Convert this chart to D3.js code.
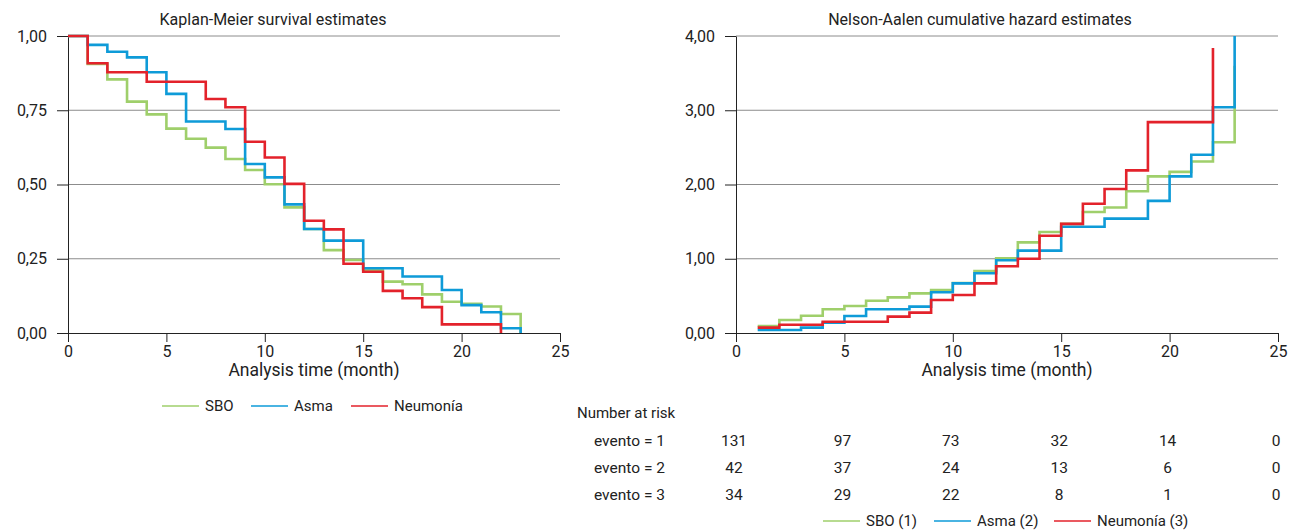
<!DOCTYPE html>
<html>
<head>
<meta charset="utf-8">
<script src="https://cdn.jsdelivr.net/npm/d3@7"></script>
<style>
  body { margin: 0; background: #fff; }
  svg { font-family: Roboto, "Liberation Sans", sans-serif; }
  .axis text { font-size: 16px; fill: #222; }
  .axis path, .axis line { stroke: #222; }
  .grid line { stroke: #8c8c8c; }
</style>
</head>
<body>
<div id="chart"></div>
<script>
// series names and colours
const groups = ["SBO", "Asma", "Neumonía"];
const groupLabels = ["SBO (1)", "Asma (2)", "Neumonía (3)"];
const colors = ["#9fcf6b", "#0e9bd8", "#e3222b"];

// Kaplan-Meier: time (month) and survival for each group
const kmTime = [0,1,2,3,4,5,6,7,8,9,10,11,12,13,14,15,16,17,18,19,20,21,22,23];
const kmSBO = [1,0.906,0.854,0.779,0.736,0.688,0.654,0.624,0.586,0.549,0.501,0.423,0.350,0.279,0.246,0.212,0.173,0.164,0.130,0.105,0.098,0.089,0.064,0];
const kmAsma = [1,0.970,0.947,0.928,0.878,0.805,0.712,0.712,0.687,0.569,0.524,0.433,0.350,0.311,0.311,0.218,0.218,0.190,0.190,0.145,0.094,0.070,0.016,0];
const kmNeumonia = [1,0.908,0.878,0.878,0.846,0.846,0.846,0.788,0.760,0.644,0.591,0.502,0.378,0.349,0.233,0.206,0.142,0.117,0.087,0.029,0.029,0.029,0];

// Nelson-Aalen: time (month) and cumulative hazard for each group
const naTime = [1,2,3,4,5,6,7,8,9,10,11,12,13,14,15,16,17,18,19,20,21,22,23];
const naSBO = [0.094,0.175,0.233,0.319,0.364,0.435,0.480,0.534,0.579,0.673,0.835,1.006,1.22,1.36,1.47,1.63,1.69,1.91,2.11,2.17,2.31,2.57,3.60];
const naAsma = [0.040,0.040,0.072,0.139,0.229,0.319,0.319,0.355,0.548,0.669,0.804,0.980,1.11,1.11,1.43,1.43,1.54,1.54,1.78,2.11,2.40,3.04,4.00];
const naNeumonia = [0.072,0.112,0.112,0.152,0.152,0.152,0.220,0.274,0.444,0.512,0.669,0.900,1.00,1.31,1.47,1.74,1.94,2.19,2.84,2.84,2.84,3.84];

// number at risk table
const riskTimes = [0,5,10,15,20,25];
const riskRows = ["evento = 1", "evento = 2", "evento = 3"];
const risk1 = [131,97,73,32,14,0];
const risk2 = [42,37,24,13,6,0];
const risk3 = [34,29,22,8,1,0];

const xTicks = [0,5,10,15,20,25];
const kmTicks = [0,0.25,0.5,0.75,1];
const naTicks = [0,1,2,3,4];

const width = 1290, height = 531;
const locale = d3.formatLocale({decimal: ",", thousands: ".", grouping: [3], currency: ["", "€"]});
const fmt = locale.format(".2f");

const svg = d3.select("#chart").append("svg")
    .attr("width", width)
    .attr("height", height)
    .attr("viewBox", [0, 0, width, height]);

function drawPanel(opts) {
  const x = d3.scaleLinear().domain([0, 25]).range([opts.left, opts.right]);
  const y = d3.scaleLinear().domain(opts.yDomain).range([333, 36]);

  // horizontal gridlines
  svg.append("g").attr("class", "grid")
    .selectAll("line")
    .data(opts.yTicks.filter(d => d > 0))
    .join("line")
      .attr("x1", opts.left).attr("x2", opts.right)
      .attr("y1", d => y(d)).attr("y2", d => y(d));

  svg.append("g").attr("class", "axis")
    .attr("transform", `translate(0,${y(0)})`)
    .call(d3.axisBottom(x).tickValues(xTicks).tickSize(9).tickPadding(4).tickSizeOuter(0));

  svg.append("g").attr("class", "axis")
    .attr("transform", `translate(${opts.left},0)`)
    .call(d3.axisLeft(y).tickValues(opts.yTicks).tickFormat(fmt).tickSize(11).tickPadding(10).tickSizeOuter(0));

  svg.selectAll(".axis").attr("font-family", null).attr("font-size", null);

  const line = d3.line()
    .x(d => x(d[0]))
    .y(d => y(d[1]))
    .curve(d3.curveStepAfter);

  opts.series.forEach((vals, i) => {
    const pts = vals.map((v, j) => [opts.time[j], v]);
    svg.append("path")
      .datum(pts)
      .attr("fill", "none")
      .attr("stroke", colors[i])
      .attr("stroke-width", 2.6)
      .attr("d", line);
  });

  svg.append("text")
    .attr("x", opts.titleX).attr("y", 25)
    .attr("text-anchor", "middle")
    .attr("font-size", 16).attr("fill", "#222")
    .text(opts.title);

  svg.append("text")
    .attr("x", (opts.left + opts.right) / 2).attr("y", 376)
    .attr("text-anchor", "middle")
    .attr("font-size", 17.5).attr("fill", "#222")
    .text("Analysis time (month)");

  return x;
}

drawPanel({
  left: 68, right: 560, yDomain: [0, 1], yTicks: kmTicks,
  time: kmTime, series: [kmSBO, kmAsma, kmNeumonia],
  title: "Kaplan-Meier survival estimates", titleX: 273
});

const xNA = drawPanel({
  left: 736, right: 1278, yDomain: [0, 4], yTicks: naTicks,
  time: naTime, series: [naSBO, naAsma, naNeumonia],
  title: "Nelson-Aalen cumulative hazard estimates", titleX: 980
});

// legend under the Kaplan-Meier panel
const leftLegendX = [162, 251, 351];
const leftLegend = svg.append("g").selectAll("g")
  .data(groups)
  .join("g")
  .attr("transform", (d, i) => `translate(${leftLegendX[i]},406)`);
leftLegend.append("line")
  .attr("x1", 0).attr("x2", 37)
  .attr("stroke", (d, i) => colors[i]).attr("stroke-width", 1.5);
leftLegend.append("text")
  .attr("x", 43).attr("dy", "0.35em")
  .attr("font-size", 15).attr("fill", "#222")
  .text(d => d);

// number at risk
svg.append("text")
  .attr("x", 577).attr("y", 413).attr("dy", "0.35em")
  .attr("font-size", 15).attr("fill", "#222")
  .text("Number at risk");

const riskData = [risk1, risk2, risk3];
const rowY = [441, 468, 495];
riskRows.forEach((name, r) => {
  svg.append("text")
    .attr("x", 594).attr("y", rowY[r]).attr("dy", "0.35em")
    .attr("font-size", 15.5).attr("fill", "#222")
    .text(name);
  svg.append("g").selectAll("text")
    .data(riskData[r])
    .join("text")
      .attr("x", (d, i) => xNA(riskTimes[i]) - 2)
      .attr("y", rowY[r]).attr("dy", "0.35em")
      .attr("text-anchor", "middle")
      .attr("font-size", 15.5).attr("fill", "#222")
      .text(d => d);
});

// legend under the risk table
const bottomLegendX = [823, 934, 1054];
const bottomLegend = svg.append("g").selectAll("g")
  .data(groupLabels)
  .join("g")
  .attr("transform", (d, i) => `translate(${bottomLegendX[i]},521)`);
bottomLegend.append("line")
  .attr("x1", 0).attr("x2", 37)
  .attr("stroke", (d, i) => colors[i]).attr("stroke-width", 1.5);
bottomLegend.append("text")
  .attr("x", 43).attr("dy", "0.35em")
  .attr("font-size", 15).attr("fill", "#222")
  .text(d => d);
</script>
</body>
</html>
